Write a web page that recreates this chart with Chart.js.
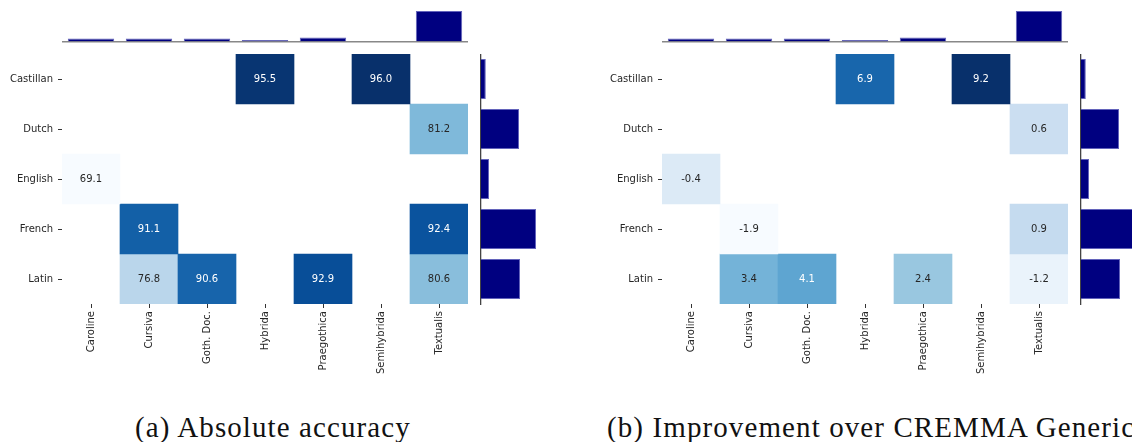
<!DOCTYPE html>
<html>
<head>
<meta charset="utf-8">
<script src="https://cdn.jsdelivr.net/npm/chart.js@4.4.1/dist/chart.umd.min.js"></script>
<style>
  body { margin: 0; width: 1132px; height: 442px; overflow: hidden; background: #fff; position: relative; }
  canvas { position: absolute; }
  .cap { position: absolute; font-family: "Liberation Serif", serif; font-size: 29px; letter-spacing: 1.1px; line-height: 28px; color: #111; white-space: nowrap; }
</style>
</head>
<body>
<canvas id="topA" width="406" height="44" style="left:62px;top:0px"></canvas>
<canvas id="heatA" width="468" height="350" style="left:0px;top:54px"></canvas>
<canvas id="sideA" width="120" height="254" style="left:480px;top:54px"></canvas>
<canvas id="topB" width="406" height="44" style="left:662px;top:0px"></canvas>
<canvas id="heatB" width="468" height="350" style="left:600px;top:54px"></canvas>
<canvas id="sideB" width="120" height="254" style="left:1080px;top:54px"></canvas>
<div class="cap" style="left:135px;top:413px">(a) Absolute accuracy</div>
<div class="cap" style="left:607px;top:413px">(b) Improvement over CREMMA Generic</div>
<script>
const scripts = ["Caroline", "Cursiva", "Goth. Doc.", "Hybrida", "Praegothica", "Semihybrida", "Textualis"];
const languages = ["Castillan", "Dutch", "English", "French", "Latin"];

// rows = languages, columns = scripts
const accuracy = [
  [null, null, null, 95.5, null, 96.0, null],
  [null, null, null, null, null, null, 81.2],
  [69.1, null, null, null, null, null, null],
  [null, 91.1, null, null, null, null, 92.4],
  [null, 76.8, 90.6, null, 92.9, null, 80.6],
];
const improvement = [
  [null, null, null, 6.9, null, 9.2, null],
  [null, null, null, null, null, null, 0.6],
  [-0.4, null, null, null, null, null, null],
  [null, -1.9, null, null, null, null, 0.9],
  [null, 3.4, 4.1, null, 2.4, null, -1.2],
];

// marginal bar sizes (relative)
const scriptBars = [2.9, 2.9, 2.9, 1.4, 4.0, 0, 30.4];
const languageBars = [4.8, 38, 8, 55, 39];

const BLUES = ["#f7fbff", "#deebf7", "#c6dbef", "#9ecae1", "#6baed6", "#4292c6", "#2171b5", "#08519c", "#08306b"];
const hexRgb = h => [1, 3, 5].map(i => parseInt(h.substr(i, 2), 16));

function blues(t) {
  t = Math.max(0, Math.min(1, t)) * (BLUES.length - 1);
  const i = Math.min(Math.floor(t), BLUES.length - 2);
  const f = t - i;
  const a = hexRgb(BLUES[i]), b = hexRgb(BLUES[i + 1]);
  return a.map((c, k) => Math.round(c + (b[k] - c) * f));
}

function luminance(rgb) {
  const lin = rgb.map(c => { c /= 255; return c <= 0.03928 ? c / 12.92 : Math.pow((c + 0.055) / 1.055, 2.4); });
  return 0.2126 * lin[0] + 0.7152 * lin[1] + 0.0722 * lin[2];
}

const tickFont = { family: "DejaVu Sans", size: 10 };
const navy = "#000080";
const noPad = s => { s.paddingTop = 0; s.paddingBottom = 0; s.paddingLeft = 0; s.paddingRight = 0; };

const cellText = {
  id: "cellText",
  afterDatasetsDraw(chart) {
    const ctx = chart.ctx;
    ctx.save();
    ctx.font = "10px 'DejaVu Sans'";
    ctx.textAlign = "center";
    ctx.textBaseline = "middle";
    chart.data.datasets.forEach((ds, di) => {
      chart.getDatasetMeta(di).data.forEach((el, j) => {
        const v = ds.vals[j];
        if (v === null) return;
        ctx.fillStyle = ds.textColors[j];
        ctx.fillText(v.toFixed(1), el.x, (el.y + el.base) / 2);
      });
    });
    ctx.restore();
  }
};

function heatmap(id, values) {
  const flat = values.flat().filter(v => v !== null);
  const vmin = Math.min(...flat), vmax = Math.max(...flat);
  const datasets = languages.map((lang, i) => {
    const rgbs = values[i].map(v => v === null ? null : blues((v - vmin) / (vmax - vmin)));
    return {
      label: lang,
      data: values[i].map(v => v === null ? null : [i, i + 1]),
      vals: values[i],
      backgroundColor: rgbs.map(c => c ? `rgb(${c.join(",")})` : "transparent"),
      textColors: rgbs.map(c => c && luminance(c) < 0.38 ? "#ffffff" : "#262626"),
      borderWidth: 0,
      grouped: false,
      barPercentage: 1,
      categoryPercentage: 1,
    };
  });
  new Chart(document.getElementById(id), {
    type: "bar",
    data: { labels: scripts, datasets },
    options: {
      responsive: false,
      animation: false,
      layout: { padding: 0 },
      plugins: { legend: { display: false }, tooltip: { enabled: false } },
      scales: {
        x: {
          grid: { drawOnChartArea: false, offset: false, tickLength: 4, color: "#333" },
          border: { display: false },
          ticks: { font: tickFont, color: "#262626", minRotation: 90, maxRotation: 90, autoSkip: false, padding: 3 },
          afterFit: s => { s.height = 100; noPad(s); },
        },
        y: {
          type: "linear",
          min: 0,
          max: languages.length,
          reverse: true,
          grid: { drawOnChartArea: false, tickLength: 4, color: "#333" },
          border: { display: false },
          afterBuildTicks: s => { s.ticks = languages.map((l, i) => ({ value: i + 0.5 })); },
          ticks: { font: tickFont, color: "#262626", padding: 5, callback: v => languages[Math.floor(v)] },
          afterFit: s => { s.width = 62; noPad(s); },
        },
      },
    },
    plugins: [cellText],
  });
}

function topBars(id) {
  new Chart(document.getElementById(id), {
    type: "bar",
    data: {
      labels: scripts,
      datasets: [{ data: scriptBars, backgroundColor: navy, borderColor: "rgba(60,60,170,0.8)", borderWidth: 1, barPercentage: 0.8, categoryPercentage: 1 }],
    },
    options: {
      responsive: false,
      animation: false,
      layout: { padding: { bottom: 2.5 } },
      plugins: { legend: { display: false }, tooltip: { enabled: false } },
      scales: {
        x: {
          grid: { display: false },
          ticks: { display: false },
          border: { display: true, color: "#888", width: 1.5 },
          afterFit: s => { s.height = 0; noPad(s); },
        },
        y: { display: false, min: 0, max: 41.5 },
      },
    },
  });
}

function sideBars(id) {
  new Chart(document.getElementById(id), {
    type: "bar",
    data: {
      labels: languages,
      datasets: [{ data: languageBars, backgroundColor: navy, borderColor: "rgba(60,60,170,0.8)", borderWidth: 1, barPercentage: 0.8, categoryPercentage: 1 }],
    },
    options: {
      indexAxis: "y",
      responsive: false,
      animation: false,
      layout: { padding: { left: 1, bottom: 4 } },
      plugins: { legend: { display: false }, tooltip: { enabled: false } },
      scales: {
        y: {
          grid: { display: false },
          ticks: { display: false },
          border: { display: true, color: "#444", width: 1.3 },
          afterFit: s => { s.width = 0; noPad(s); },
        },
        x: { display: false, min: 0, max: 119 },
      },
    },
  });
}

topBars("topA");
heatmap("heatA", accuracy);
sideBars("sideA");
topBars("topB");
heatmap("heatB", improvement);
sideBars("sideB");
</script>
</body>
</html>
